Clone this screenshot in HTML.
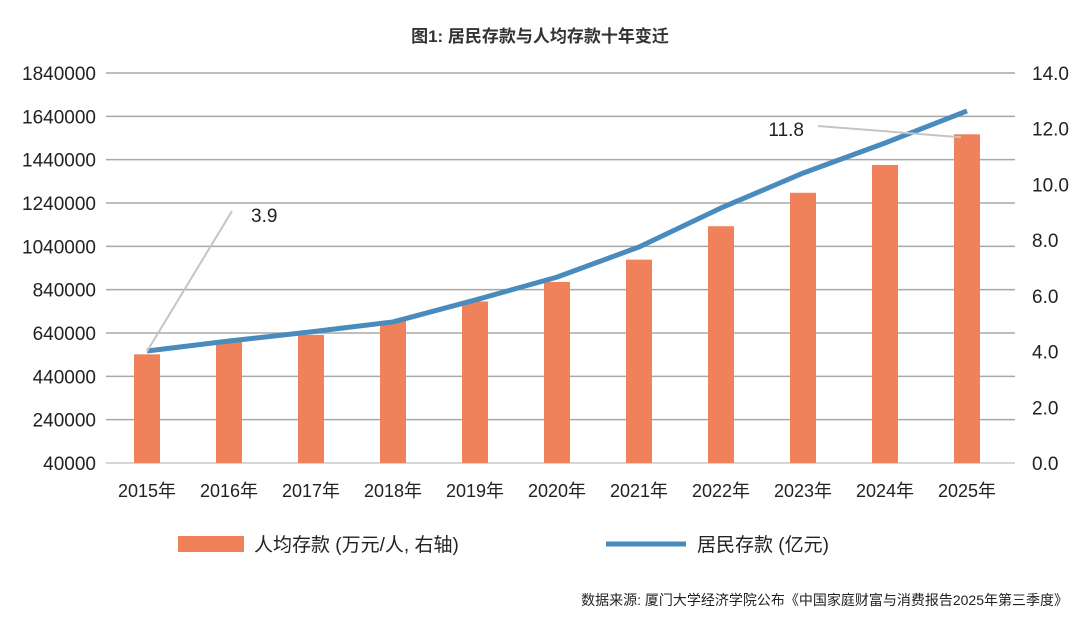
<!DOCTYPE html>
<html><head><meta charset="utf-8"><style>
body{margin:0;background:#fff;}
svg{display:block;font-family:"Liberation Sans","Noto Sans CJK SC",sans-serif;}
</style></head><body>
<svg id="c" width="1080" height="619">
<text x="540" y="42" text-anchor="middle" font-size="17" font-weight="bold" fill="#333">图1: 居民存款与人均存款十年变迁</text>
<g id="grid"></g><g id="bars"></g><g id="line"></g><g id="labels"></g>
<g>
<rect x="178" y="536" width="66" height="16" fill="#ef825b"/>
<text x="254" y="551" font-size="19" fill="#222">人均存款 (万元/人, 右轴)</text>
<line x1="606" y1="544" x2="686" y2="544" stroke="#4a8bbd" stroke-width="5"/>
<text x="697" y="551" font-size="19" fill="#222">居民存款 (亿元)</text>
</g>
<text x="1068" y="605" text-anchor="end" font-size="14" fill="#222">数据来源: 厦门大学经济学院公布《中国家庭财富与消费报告2025年第三季度》</text>
</svg>
<script>
const years=["2015年","2016年","2017年","2018年","2019年","2020年","2021年","2022年","2023年","2024年","2025年"];
const perCapita=[3.9,4.4,4.6,5.1,5.8,6.5,7.3,8.5,9.7,10.7,11.8];
const deposits=[557000,603000,645000,691000,792000,898000,1037000,1217000,1378000,1517000,1665000];
const leftTicks=[40000,240000,440000,640000,840000,1040000,1240000,1440000,1640000,1840000];
const rightTicks=["0.0","2.0","4.0","6.0","8.0","10.0","12.0","14.0"];
const NS="http://www.w3.org/2000/svg";
const yTop=73,yBot=463,x0=106,step=82,c0=147;
function yL(v){return yBot-(v-40000)/1800000*(yBot-yTop);}
function yR(v){return yBot-v/14*(yBot-yTop);}
function xC(i){return c0+i*step;}
function mk(g,t,a){const e=document.createElementNS(NS,t);for(const k in a)e.setAttribute(k,a[k]);document.getElementById(g).appendChild(e);return e;}
leftTicks.forEach((v,i)=>{
 const l=mk('grid','line',{x1:x0,x2:1015,y1:yL(v),y2:yL(v),stroke:i==0?'#c8c8c8':'#a8a8a8','stroke-width':1.5});
 
 
 const t=mk('labels','text',{x:96,y:yL(v)+7,'text-anchor':'end','font-size':19,fill:'#222'});
 t.textContent=v;
 
 
});
rightTicks.forEach((s,i)=>{
 const t=mk('labels','text',{x:1032,y:yR(+s)+7,'font-size':19,fill:'#222'});
 t.textContent=s;
 
 
});
years.forEach((y,i)=>{
 const t=mk('labels','text',{x:xC(i),y:497,'text-anchor':'middle','font-size':18,fill:'#222'});
 t.textContent=y;
 
 
 const b=mk('bars','rect',{x:xC(i)-13,y:yR(perCapita[i]),width:26,height:yBot-yR(perCapita[i]),fill:'#ef825b'});
 
 
});
const p=mk('line','polyline',{points:deposits.map((v,i)=>xC(i)+','+yL(v)).join(' '),fill:'none',stroke:'#4a8bbd','stroke-width':5,'stroke-linejoin':'round'});


const n=perCapita.length-1;
const a1=mk('labels','line',{x1:xC(0),y1:yR(perCapita[0])-3,x2:232,y2:211,stroke:'#c4c4c4','stroke-width':2});


const a1t=mk('labels','text',{x:251,y:222,'font-size':19,fill:'#222'});
a1t.textContent=perCapita[0];


const a2=mk('labels','line',{x1:818,y1:126,x2:xC(n)-6,y2:yR(perCapita[n])+3,stroke:'#c4c4c4','stroke-width':2});


const a2t=mk('labels','text',{x:804,y:136,'text-anchor':'end','font-size':19,fill:'#222'});
a2t.textContent=perCapita[n];


</script>
</body></html>
